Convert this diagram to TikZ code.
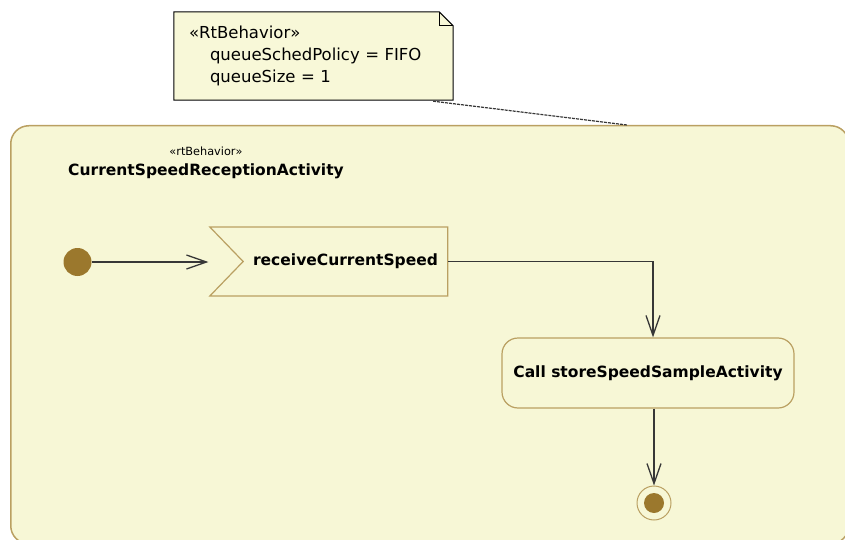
\documentclass[tikz,border=0pt]{standalone}
\usepackage{fontspec}
\setmainfont{DejaVu Sans}
\usetikzlibrary{arrows.meta, positioning, shapes.symbols, calc}
\definecolor{actfill}{RGB}{247,247,214}
\definecolor{actborder}{RGB}{186,160,98}
\definecolor{tokenfill}{RGB}{155,120,45}
\definecolor{flowgray}{RGB}{55,55,55}
\definecolor{notefill}{RGB}{248,248,216}
\tikzset{
    activityframe/.style={
        rectangle,
        draw=actborder,
        fill=actfill,
        line width=1.5pt,
        rounded corners=18pt
    },
    action/.style={
        rectangle,
        draw=actborder,
        fill=actfill,
        line width=1.2pt,
        rounded corners=16pt,
        font=\fontsize{15.5}{18}\selectfont\bfseries
    },
    acceptevent/.style={
        signal,
        signal to=nowhere,
        signal from=west,
        signal pointer angle=92,
        draw=actborder,
        fill=actfill,
        line width=1.2pt,
        font=\fontsize{15.5}{18}\selectfont\bfseries
    },
    initial/.style={
        circle,
        fill=tokenfill,
        minimum size=28pt,
        inner sep=0pt
    },
    final/.style={
        circle,
        draw=actborder,
        fill=actfill,
        line width=1pt,
        minimum size=34pt,
        inner sep=0pt,
        path picture={\fill[tokenfill] (path picture bounding box.center) circle (10pt);}
    },
    flow/.style={
        draw=flowgray,
        line width=1.3pt,
        -{Straight Barb[length=20pt, width=14pt]}
    },
    note/.style={
        rectangle,
        fill=notefill,
        minimum width=279pt,
        minimum height=88pt,
        text width=249pt,
        align=left,
        inner xsep=15pt,
        font=\fontsize{16.5}{22}\selectfont
    },
    noteborder/.style={
        draw=black,
        line width=1pt
    },
    noteline/.style={
        draw=flowgray,
        line width=1.2pt,
        dash pattern=on 3pt off 1pt
    }
}

\begin{document}
\begin{tikzpicture}[x=1pt, y=-1pt]
\useasboundingbox (0,0) rectangle (845,540);
\clip (0,0) rectangle (845,540);

% Activity frame
\node[activityframe, anchor=north west, minimum width=838pt, minimum height=418pt] (activity) at (10,125) {};
\node[font=\fontsize{15.5}{18}\selectfont\bfseries] (title) at (206,171) {CurrentSpeedReceptionActivity};
\node[font=\fontsize{11.3}{13}\selectfont, above=1pt of title] (stereo) {«rtBehavior»};

% Comment with folded corner
\node[note] (comment) at (313.5,56) {«RtBehavior»\\
\hspace*{21pt}queueSchedPolicy = FIFO\\
\hspace*{21pt}queueSize = 1};
\fill[white] ([xshift=-14pt]comment.north east) -- (comment.north east) -- ([yshift=-14pt]comment.north east) -- cycle;
\draw[noteborder] (comment.north west) -- ([xshift=-14pt]comment.north east) -- ([yshift=-14pt]comment.north east)
    -- (comment.south east) -- (comment.south west) -- cycle;
\draw[noteborder] ([xshift=-14pt]comment.north east) |- ([yshift=-14pt]comment.north east);
\draw[noteline] ($(comment.south east)+(-20,1)$) -- ($(activity.north west)+(617,0)$);

% Nodes
\node[initial] (init) at (77.5,262) {};
\node[acceptevent, minimum width=238pt, minimum height=69pt] (recv) at (345.5,261.5) {receiveCurrentSpeed};
\node[action, minimum width=292pt, minimum height=70pt] (call) at (648,373) {Call storeSpeedSampleActivity};
\node[final] (final) at (654,503) {};

% Flows
\draw[flow] (init) -- (init -| recv.north west);
\draw[flow] (recv.east) -| ([xshift=5pt]call.north);
\draw[flow] (final |- call.south) -- (final);

\end{tikzpicture}
\end{document}
